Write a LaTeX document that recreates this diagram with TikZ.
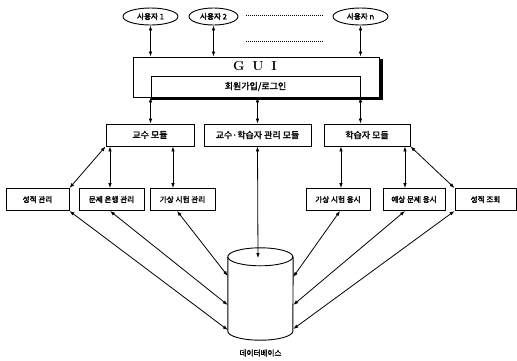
\documentclass[tikz,border=0pt]{standalone}
\usepackage{fontspec}
\usetikzlibrary{arrows.meta,shapes.geometric,calc}
\newfontfamily\kr{Noto Sans CJK KR}[FakeBold=2]
\begin{document}
\begin{tikzpicture}[x=1pt,y=-1pt,
  box/.style={draw,line width=0.9pt,rectangle,inner sep=0pt,font=\kr\fontsize{8}{9}\selectfont},
  modbox/.style={box,minimum height=22pt,font=\kr\fontsize{9}{10}\selectfont},
  subbox/.style={box,minimum height=22pt,font=\kr\fontsize{7.6}{9}\selectfont},
  user/.style={draw,line width=0.9pt,ellipse,inner sep=0pt,minimum height=17pt,font=\kr\fontsize{7.6}{8}\selectfont},
  link/.style={line width=0.8pt,{Latex[length=5pt,width=3.6pt]}-{Latex[length=5pt,width=3.6pt]}},
  dots/.style={line width=0.7pt,dash pattern=on 1pt off 1pt}
]
\useasboundingbox (0,0) rectangle (517,360);

% users
\node[user,minimum width=55pt] (u1) at (150.5,16.5) {사용자 1};
\node[user,minimum width=49pt] (u2) at (213.5,16.5) {사용자 2};
\node[user,minimum width=55pt] (un) at (360.5,16.5) {사용자 n};
\coordinate (d1a) at (246,15); \coordinate (d1b) at (323,15);
\coordinate (d2a) at (246,41); \coordinate (d2b) at (323,41);
\draw[dots] (d1a) -- (d1b);
\draw[dots] (d2a) -- (d2b);

% GUI
\draw[line width=3pt] (151,98.2) -- (381.2,98.2) -- (381.2,59);
\node[box,minimum width=246pt,minimum height=40pt] (gui) at (256,77) {};
\node[font=\bfseries\fontsize{13}{14}\selectfont,inner sep=0pt] (guit) at (255,66) {G\hspace{0.6em}U\hspace{0.6em}I};
\node[box,minimum width=209pt,minimum height=21pt,font=\kr\fontsize{9}{10}\selectfont] (login) at (255.5,86.5) {회원가입/로그인};

% modules
\node[modbox,minimum width=88pt] (prof) at (150,135) {교수 모듈};
\node[modbox,minimum width=107pt] (mgmt) at (257.5,135) {교수·학습자 관리 모듈};
\node[modbox,minimum width=86pt] (stu) at (367,135) {학습자 모듈};

% sub modules
\node[subbox,minimum width=63pt] (grade) at (37.5,199.5) {성적 관리};
\node[subbox,minimum width=65pt] (bank) at (111.5,199.5) {문제 은행 관리};
\node[subbox,minimum width=65pt] (mock) at (182.5,199.5) {가상 시험 관리};
\node[subbox,minimum width=64pt] (take) at (338,199.5) {가상 시험 응시};
\node[subbox,minimum width=62pt] (pred) at (414,199.5) {예상 문제 응시};
\node[subbox,minimum width=61pt] (view) at (485.5,199.5) {성적 조회};

% database
\node[minimum width=65pt,minimum height=92pt,inner sep=0pt] (db) at (260.5,294) {};
\draw[line width=0.9pt] ($(db.north west)+(0,9)$) arc[start angle=180,end angle=-180,x radius=32.5pt,y radius=9pt];
\draw[line width=0.9pt] ($(db.north west)+(0,9)$) -- ($(db.south west)+(0,-9)$)
   arc[start angle=180,end angle=360,x radius=32.5pt,y radius=9pt] -- ($(db.north east)+(0,9)$);
\node[font=\kr\fontsize{7.6}{8}\selectfont,inner sep=0pt] (dbl) at (260.5,353) {데이터베이스};
\coordinate (dbL1) at ($(db.west)+(0,-18)$);
\coordinate (dbL2) at ($(db.west)+(0,11)$);
\coordinate (dbL3) at ($(db.west)+(0,36)$);
\coordinate (dbR1) at ($(db.east)+(0,-17)$);
\coordinate (dbR2) at ($(db.east)+(0,11)$);
\coordinate (dbR3) at ($(db.east)+(0,35)$);
\coordinate (dbT) at (258,258);

% connectors users - GUI
\draw[link] (u1.south) -- (u1.south |- gui.north);
\draw[link] (u2.south) -- (u2.south |- gui.north);
\draw[link] (un.south) -- (un.south |- gui.north);

% GUI - modules
\draw[link] (login.south west) -- (login.south west |- prof.north);
\draw[link] (mgmt.north |- gui.south) -- (mgmt.north);
\draw[link] (login.south east) -- (login.south east |- stu.north);

% modules - sub modules
\draw[link] (prof.south west) -- (grade.north east);
\draw[link] ([xshift=-1.5pt]bank.north |- prof.south) -- ([xshift=-1.5pt]bank.north);
\draw[link] ([xshift=-9.5pt]mock.north |- prof.south) -- ([xshift=-9.5pt]mock.north);
\draw[link] ([xshift=3pt]take.north |- stu.south) -- ([xshift=3pt]take.north);
\draw[link] ([xshift=-9pt]pred.north |- stu.south) -- ([xshift=-9pt]pred.north);
\draw[link] (stu.south east) -- (view.north west);

% sub modules - database
\draw[link] (grade.south east) -- (dbL3);
\draw[link] ([xshift=-1.5pt]bank.south) -- (dbL2);
\draw[link] ([xshift=-5.5pt]mock.south) -- (dbL1);
\draw[link] (mgmt.south) -- (dbT);
\draw[link] ([xshift=2pt]take.south) -- (dbR1);
\draw[link] ([xshift=-9pt]pred.south) -- (dbR2);
\draw[link] (view.south west) -- (dbR3);
\end{tikzpicture}
\end{document}
